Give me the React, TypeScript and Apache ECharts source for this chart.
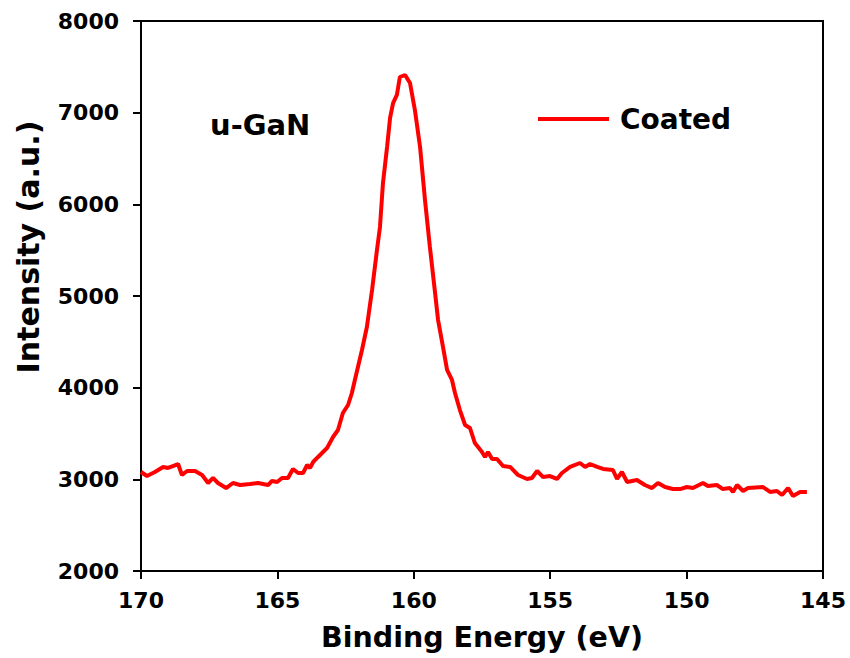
import React, { useEffect, useRef } from "react";
import * as echarts from "echarts";

const energies = [
  170.0, 169.78, 169.49, 169.19, 169.01, 168.83, 168.64, 168.5, 168.31, 168.02,
  167.76, 167.54, 167.36, 167.18, 166.88, 166.63, 166.37, 166.0, 165.71, 165.34,
  165.2, 165.01, 164.83, 164.61, 164.43, 164.24, 164.06, 163.91, 163.8, 163.69,
  163.51, 163.18, 162.96, 162.78, 162.6, 162.41, 162.27, 162.16, 161.9, 161.72,
  161.53, 161.35, 161.24, 161.13, 160.98, 160.87, 160.76, 160.62, 160.51, 160.32,
  160.14, 159.96, 159.77, 159.59, 159.41, 159.22, 159.11, 158.93, 158.78, 158.6,
  158.49, 158.31, 158.12, 157.94, 157.76, 157.5, 157.39, 157.28, 157.13, 156.95,
  156.73, 156.47, 156.18, 155.85, 155.67, 155.48, 155.26, 155.01, 154.75, 154.57,
  154.27, 153.91, 153.72, 153.54, 153.28, 153.06, 152.7, 152.55, 152.37, 152.18,
  151.82, 151.53, 151.27, 151.05, 150.79, 150.5, 150.24, 149.99, 149.77, 149.4,
  149.22, 148.89, 148.67, 148.41, 148.3, 148.15, 147.93, 147.75, 147.2, 146.94,
  146.69, 146.5, 146.28, 146.1, 145.84, 145.59,
];

const intensities = [
  3080, 3036, 3080, 3135, 3124, 3145, 3167, 3047, 3091, 3091,
  3047, 2960, 3015, 2960, 2905, 2960, 2938, 2949, 2960, 2938,
  2982, 2971, 3015, 3015, 3113, 3069, 3069, 3156, 3124, 3189,
  3244, 3342, 3462, 3538, 3724, 3811, 3942, 4084, 4411, 4662,
  5065, 5502, 5753, 6233, 6625, 6942, 7105, 7193, 7389, 7411,
  7324, 7029, 6625, 6047, 5535, 5033, 4738, 4444, 4193, 4084,
  3942, 3756, 3593, 3560, 3396, 3298, 3244, 3298, 3222, 3222,
  3145, 3135, 3047, 3004, 3015, 3091, 3025, 3036, 3004, 3069,
  3135, 3178, 3135, 3167, 3135, 3113, 3102, 3004, 3080, 2971,
  2993, 2938, 2905, 2960, 2916, 2894, 2894, 2916, 2905, 2960,
  2927, 2938, 2894, 2905, 2862, 2938, 2873, 2905, 2916, 2862,
  2873, 2829, 2905, 2818, 2862, 2862,
];

const seriesName = "Coated";
const sampleLabel = "u-GaN";
const xTitle = "Binding Energy (eV)";
const yTitle = "Intensity (a.u.)";

const FONT = "DejaVu Sans";

export default function App() {
  const ref = useRef<HTMLDivElement>(null);
  useEffect(() => {
    if (!ref.current) return;
    const chart = echarts.init(ref.current, undefined, { renderer: "svg" });
    const data = energies.map((e, i) => [e, intensities[i]]);
    chart.setOption({
      animation: false,
      backgroundColor: "#fff",
      grid: {
        left: 141,
        right: 27,
        top: 21,
        bottom: 87,
        containLabel: false,
        outerBoundsMode: "none",
        show: true,
        borderColor: "#000",
        borderWidth: 2,
        backgroundColor: "transparent",
      },
      legend: {
        left: 533,
        top: 100,
        icon: "rect",
        itemWidth: 71,
        itemHeight: 4,
        data: [seriesName],
        textStyle: {
          fontFamily: FONT,
          fontWeight: "bold",
          fontSize: 28,
          color: "#000",
          padding: [0, 0, 0, 6],
        },
      },
      graphic: [
        {
          type: "text",
          left: 210,
          top: 110,
          style: {
            text: sampleLabel,
            fontFamily: FONT,
            fontWeight: "bold",
            fontSize: 29,
            fill: "#000",
          },
        },
      ],
      xAxis: {
        type: "value",
        min: 145,
        max: 170,
        interval: 5,
        inverse: true,
        name: xTitle,
        nameLocation: "middle",
        nameGap: 52,
        nameTextStyle: {
          fontFamily: FONT,
          fontWeight: "bold",
          fontSize: 28.5,
          color: "#000",
        },
        axisLine: { show: true, lineStyle: { color: "#000", width: 2 } },
        axisTick: { show: true, inside: false, length: 8, lineStyle: { color: "#000", width: 2 } },
        axisLabel: {
          margin: 18,
          fontFamily: FONT,
          fontWeight: "bold",
          fontSize: 22,
          color: "#000",
          formatter: (v: number) => String(v),
        },
        splitLine: { show: false },
      },
      yAxis: {
        type: "value",
        min: 2000,
        max: 8000,
        interval: 1000,
        name: yTitle,
        nameLocation: "middle",
        nameGap: 98,
        nameTextStyle: {
          fontFamily: FONT,
          fontWeight: "bold",
          fontSize: 30,
          color: "#000",
          padding: [0, 0, 0, 98],
        },
        axisLine: { show: true, lineStyle: { color: "#000", width: 2 } },
        axisTick: { show: true, inside: false, length: 8, lineStyle: { color: "#000", width: 2 } },
        axisLabel: {
          margin: 22,
          fontFamily: FONT,
          fontWeight: "bold",
          fontSize: 22,
          color: "#000",
          formatter: (v: number) => String(v),
        },
        splitLine: { show: false },
      },
      series: [
        {
          name: seriesName,
          type: "line",
          data,
          showSymbol: false,
          symbol: "none",
          smooth: false,
          lineStyle: { color: "#ff0000", width: 4 },
          itemStyle: { color: "#ff0000" },
        },
      ],
    });
    return () => chart.dispose();
  }, []);
  return (
    <div
      ref={ref}
      style={{ position: "fixed", left: 0, top: 0, width: 850, height: 658 }}
    />
  );
}
